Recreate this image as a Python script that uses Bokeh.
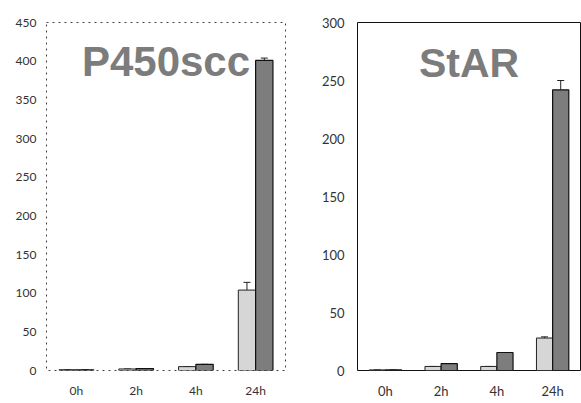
from bokeh.plotting import figure
from bokeh.layouts import row
from bokeh.models import ColumnDataSource, FactorRange, Range1d, Label, Whisker, FixedTicker
from bokeh.transform import dodge
from bokeh.embed import file_html
from bokeh.resources import INLINE

times = ["0h", "2h", "4h", "24h"]

p450_light = [1, 2, 5, 104]
p450_dark = [1, 2.5, 8, 401]
p450_light_err = [0, 0, 0, 10]
p450_dark_err = [0, 0, 0, 3]

star_light = [0.5, 3.5, 3.5, 28]
star_dark = [0.5, 6, 15.5, 242]
star_light_err = [0, 0, 0, 1]
star_dark_err = [0, 0, 0, 8]

p450_ticks = [0, 50, 100, 150, 200, 250, 300, 350, 400, 450]
star_ticks = [0, 50, 100, 150, 200, 250, 300]

LIGHT = "#d6d6d6"
DARK = "#7d7d7d"


def panel(title, light, dark, lerr, derr, ticks, ymax, width, height, bl, br, bt, bb,
          outline_dash, outline_color, fs, title_y, tick_fs, ystand):
    p = figure(x_range=FactorRange(factors=times, range_padding=0),
               y_range=Range1d(0, ymax), width=width, height=height,
               output_backend="svg", toolbar_location=None,
               min_border_left=bl, min_border_right=br, min_border_top=bt, min_border_bottom=bb)
    src = ColumnDataSource(dict(
        t=times, light=light, dark=dark,
        lup=[a + b for a, b in zip(light, lerr)],
        dup=[a + b for a, b in zip(dark, derr)],
    ))
    p.vbar(x=dodge("t", -0.145, range=p.x_range), top="light", width=0.29, source=src,
           fill_color=LIGHT, line_color="#222222", line_width=1)
    p.vbar(x=dodge("t", 0.145, range=p.x_range), top="dark", width=0.29, source=src,
           fill_color=DARK, line_color="#111111", line_width=1.2)
    for off, lo, up in ((-0.145, "light", "lup"), (0.145, "dark", "dup")):
        w = Whisker(base=dodge("t", off, range=p.x_range), lower=lo, upper=up, source=src,
                    line_color="#222222", line_width=1)
        w.lower_head = None
        w.upper_head.size = 7
        w.upper_head.line_color = "#222222"
        p.add_layout(w)
    p.add_layout(Label(x=2, y=title_y, text=title, text_align="center",
                       text_baseline="alphabetic", text_font_size=f"{fs}px",
                       text_font="Liberation Sans", text_font_style="bold",
                       text_color="#7c7c7c"))
    p.xgrid.visible = False
    p.ygrid.visible = False
    p.outline_line_color = outline_color
    p.outline_line_dash = outline_dash
    p.outline_line_width = 1
    p.outline_line_alpha = 1
    p.yaxis.ticker = FixedTicker(ticks=ticks)
    for ax in (p.xaxis[0], p.yaxis[0]):
        ax.axis_line_color = None
        ax.major_tick_line_color = None
        ax.minor_tick_line_color = None
        ax.major_tick_out = 0
        ax.major_tick_in = 0
        ax.axis_label_standoff = 0
        ax.major_label_text_font = "Lato"
        ax.major_label_text_font_size = f"{tick_fs}px"
        ax.major_label_text_color = "#333333"
    p.yaxis.major_label_standoff = ystand
    p.xaxis.major_label_standoff = 12
    p.background_fill_color = "white"
    p.border_fill_color = "white"
    return p


left = panel("P450scc", p450_light, p450_dark, p450_light_err, p450_dark_err, p450_ticks, 450,
             290, 403, 46, 5, 20, 30, "dotted", "#444444", 42, 399, 12, 10)
right = panel("StAR", star_light, star_dark, star_light_err, star_dark_err, star_ticks, 300,
              291, 403, 67, 1, 22, 33, "solid", "#111111", 41, 265, 13, 13)

layout = row(left, right, spacing=0)
open("out.html", "w").write(file_html(layout, INLINE))
